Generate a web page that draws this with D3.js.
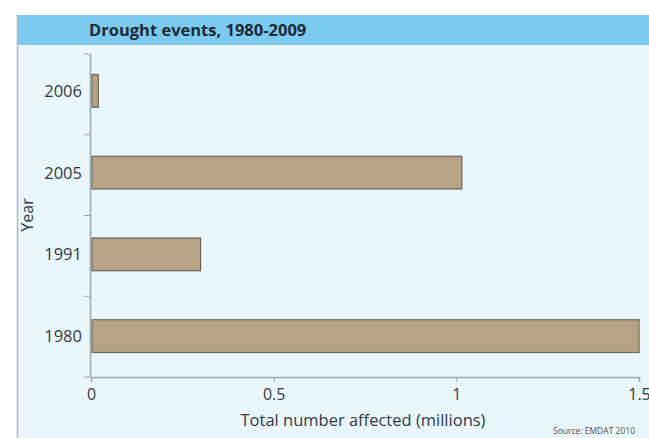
<!DOCTYPE html>
<html><head><meta charset="utf-8">
<script src="https://cdn.jsdelivr.net/npm/d3@7"></script>
<style>body{margin:0;background:#fff;overflow:hidden}svg{display:block}</style>
</head><body>
<script>
const years = ["2006", "2005", "1991", "1980"];
const affected = [0.02, 1.015, 0.30, 1.5];
const xTicks = [0, 0.5, 1, 1.5];
const xTickLabels = ["0", "0.5", "1", "1.5"];
const title = "Drought events, 1980-2009";
const xTitle = "Total number affected (millions)";
const yTitle = "Year";
const source = "Source: EMDAT 2010";

const W = 649, H = 438;
const svg = d3.select("body").append("svg").attr("width", W).attr("height", H);
const font = "'Open Sans', 'Noto Sans', sans-serif";
const txt = "#333b40";

// panel
svg.append("rect").attr("x", 17).attr("y", 15).attr("width", W - 17).attr("height", H - 15).attr("fill", "#e9f6fc");
svg.append("rect").attr("x", 17).attr("y", 15).attr("width", W - 17).attr("height", 30).attr("fill", "#7dcaf0");
svg.append("line").attr("x1", 17.5).attr("x2", 17.5).attr("y1", 15).attr("y2", H).attr("stroke", "#a9b9c2").attr("stroke-width", 1.5);
svg.append("text").attr("x", 89).attr("y", 36).text(title)
  .attr("font-family", font).attr("font-weight", "bold").attr("font-size", 16.5).attr("fill", "#1c2b33");

const x = d3.scaleLinear().domain([0, 1.5]).range([91, 639]);
const y = d3.scaleBand().domain(years).range([50, 377]).paddingInner(0.6).paddingOuter(0.3);

// bars
svg.append("g").selectAll("rect").data(years).join("rect")
  .attr("x", x(0) + 1).attr("y", d => y(d))
  .attr("width", (d, i) => x(affected[i]) - x(0) - 1)
  .attr("height", y.bandwidth())
  .attr("fill", "#b6a386").attr("stroke", "#6a6358").attr("stroke-width", 1.2);

// y axis
const yAxisG = svg.append("g");
yAxisG.append("line").attr("x1", 90.5).attr("x2", 90.5).attr("y1", 54).attr("y2", 377).attr("stroke", "#9aa6ad").attr("stroke-width", 1.5);
const sep = d3.range(0, 5).map(i => 54 + i * ((377 - 54) / 4));
yAxisG.selectAll("line.t").data(sep).join("line").attr("class", "t")
  .attr("x1", 84).attr("x2", 90).attr("y1", d => d).attr("y2", d => d)
  .attr("stroke", "#9aa6ad");
yAxisG.selectAll("text").data(years).join("text")
  .attr("x", 82).attr("y", d => y(d) + y.bandwidth() / 2 + 6)
  .attr("text-anchor", "end").attr("font-family", font).attr("font-size", 16.5).attr("fill", txt)
  .text(d => d);

// x axis
const xAxis = d3.axisBottom(x).tickValues(xTicks).tickFormat((d, i) => xTickLabels[i]).tickSize(5).tickPadding(7);
const xg = svg.append("g").attr("transform", "translate(0,377)").call(xAxis);
xg.select(".domain").attr("stroke", "#9aa6ad").attr("stroke-width", 1.5);
xg.selectAll(".tick line").attr("stroke", "#9aa6ad");
xg.selectAll(".tick text").attr("font-family", font).attr("font-size", 16).attr("fill", txt);

svg.append("text").attr("x", 363).attr("y", 426).attr("text-anchor", "middle")
  .attr("font-family", font).attr("font-size", 16.5).attr("fill", txt).text(xTitle);
svg.append("text").attr("transform", "translate(33,215) rotate(-90)").attr("text-anchor", "middle")
  .attr("font-family", font).attr("font-size", 16).attr("fill", txt).text(yTitle);
svg.append("text").attr("x", 553).attr("y", 434)
  .attr("font-family", font).attr("font-size", 8.5).attr("fill", "#555").text(source);
</script>
</body></html>
